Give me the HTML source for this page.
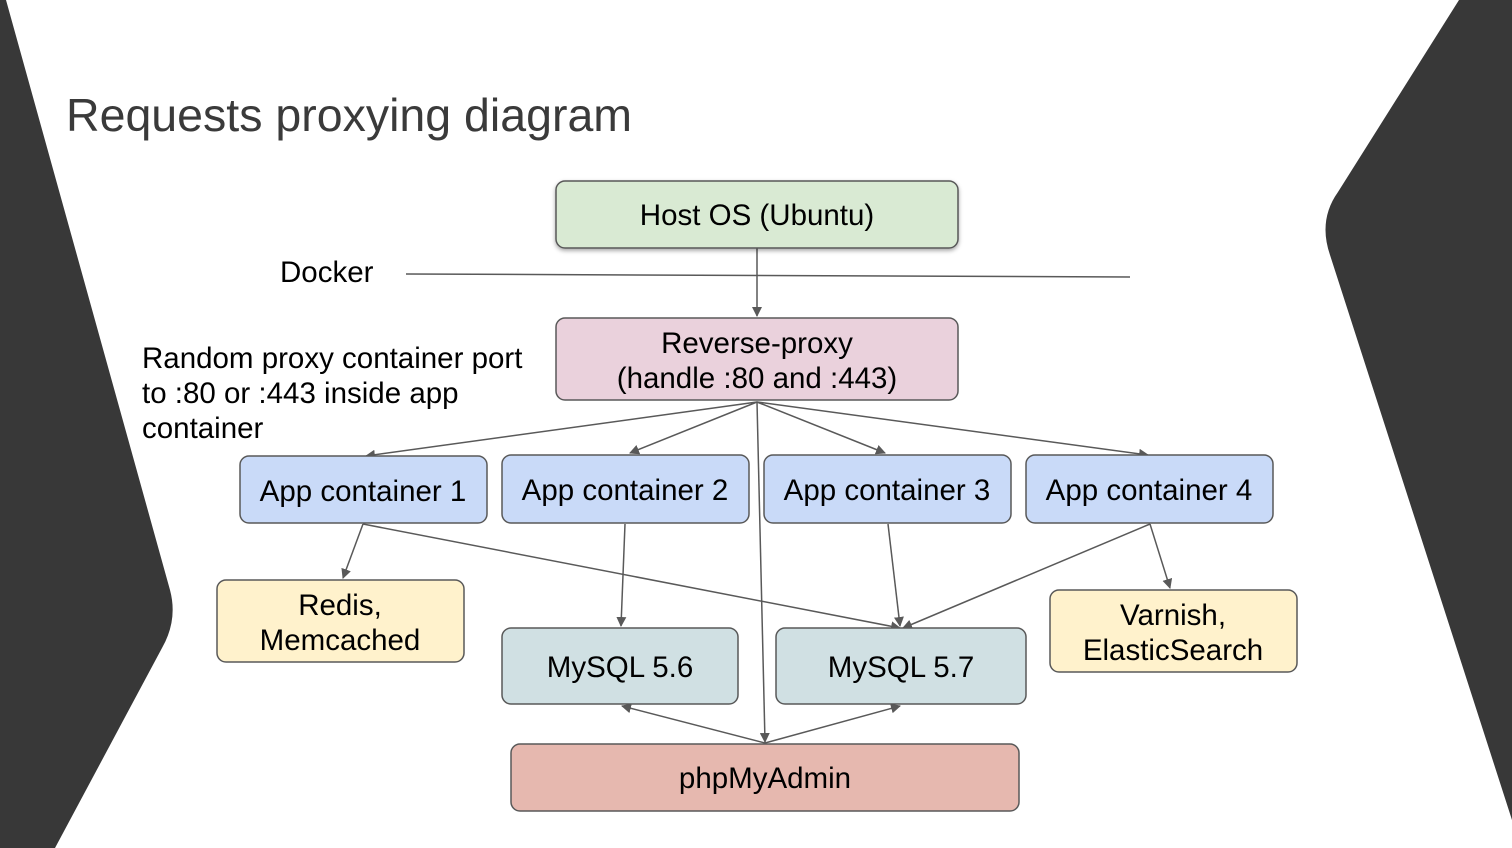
<!DOCTYPE html>
<html><head><meta charset="utf-8"><style>
html,body{margin:0;padding:0;background:#fff;}
svg{display:block;font-family:"Liberation Sans",Arial,sans-serif;}
</style></head><body>
<svg width="1512" height="848" viewBox="0 0 1512 848" xmlns="http://www.w3.org/2000/svg">
<defs>
<marker id="a" markerWidth="10" markerHeight="10" refX="9" refY="5" orient="auto" markerUnits="userSpaceOnUse" viewBox="0 0 10 10">
<path d="M0,0 L10,5 L0,10 z" fill="#595959"/></marker>
<filter id="sh" x="-5%" y="-10%" width="110%" height="130%"><feDropShadow dx="0" dy="2" stdDeviation="2" flood-color="#000" flood-opacity="0.35"/></filter>
</defs>
<path d="M0,0 L6,0 L170,590 Q178,620 162,648 L55,848 L0,848 Z" fill="#383838"/>
<path d="M1459,0 L1512,0 L1512,820 L1330,255 Q1318,220 1338,192 Z" fill="#383838"/>
<text x="66" y="131" font-size="46.5" fill="#3a3a3a">Requests proxying diagram</text>
<text x="280" y="282" font-size="29.5" fill="#000">Docker</text>
<line x1="406" y1="274" x2="1130" y2="277" stroke="#595959" stroke-width="1.5"/>
<text font-size="29.5" fill="#000"><tspan x="142" y="368">Random proxy container port</tspan><tspan x="142" y="403">to :80 or :443 inside app</tspan><tspan x="142" y="438">container</tspan></text>
<g stroke="#595959" stroke-width="1.5" fill="none">
<line x1="757" y1="248" x2="757" y2="316" marker-end="url(#a)"/>
<line x1="757" y1="402" x2="366" y2="456" marker-end="url(#a)"/>
<line x1="757" y1="402" x2="630" y2="453" marker-end="url(#a)"/>
<line x1="757" y1="402" x2="885" y2="453" marker-end="url(#a)"/>
<line x1="757" y1="402" x2="1148" y2="455" marker-end="url(#a)"/>
<line x1="757" y1="402" x2="765" y2="742" marker-end="url(#a)"/>
<line x1="363" y1="524" x2="343" y2="578" marker-end="url(#a)"/>
<line x1="363" y1="524" x2="900" y2="628" marker-end="url(#a)"/>
<line x1="625" y1="524" x2="621" y2="626" marker-end="url(#a)"/>
<line x1="888" y1="524" x2="900" y2="626" marker-end="url(#a)"/>
<line x1="1150" y1="524" x2="903" y2="628" marker-end="url(#a)"/>
<line x1="1150" y1="524" x2="1170" y2="588" marker-end="url(#a)"/>
<line x1="765" y1="743" x2="622" y2="706" marker-end="url(#a)"/>
<line x1="765" y1="743" x2="900" y2="706" marker-end="url(#a)"/>
</g>
<g stroke="#595959" stroke-width="1.5">
<rect x="556" y="181" width="402" height="67" rx="9" fill="#d9ead3" filter="url(#sh)"/>
<rect x="556" y="318" width="402" height="82" rx="9" fill="#ead1dc"/>
<rect x="240" y="456" width="247" height="67" rx="9" fill="#c9daf8"/>
<rect x="502" y="455" width="247" height="68" rx="9" fill="#c9daf8"/>
<rect x="764" y="455" width="247" height="68" rx="9" fill="#c9daf8"/>
<rect x="1026" y="455" width="247" height="68" rx="9" fill="#c9daf8"/>
<rect x="217" y="580" width="247" height="82" rx="9" fill="#fff2cc"/>
<rect x="502" y="628" width="236" height="76" rx="9" fill="#d0e0e3"/>
<rect x="776" y="628" width="250" height="76" rx="9" fill="#d0e0e3"/>
<rect x="1050" y="590" width="247" height="82" rx="9" fill="#fff2cc"/>
<rect x="511" y="744" width="508" height="67" rx="9" fill="#e6b8af"/>
</g>
<g font-size="29.5" fill="#000" text-anchor="middle">
<text x="757" y="225">Host OS (Ubuntu)</text>
<text x="757" y="353">Reverse-proxy</text>
<text x="757" y="388">(handle :80 and :443)</text>
<text x="363" y="501">App container 1</text>
<text x="625" y="500">App container 2</text>
<text x="887" y="500">App container 3</text>
<text x="1149" y="500">App container 4</text>
<text x="340" y="615">Redis,</text>
<text x="340" y="650">Memcached</text>
<text x="620" y="677">MySQL 5.6</text>
<text x="901" y="677">MySQL 5.7</text>
<text x="1173" y="625">Varnish,</text>
<text x="1173" y="660">ElasticSearch</text>
<text x="765" y="788">phpMyAdmin</text>
</g>
</svg>
</body></html>
